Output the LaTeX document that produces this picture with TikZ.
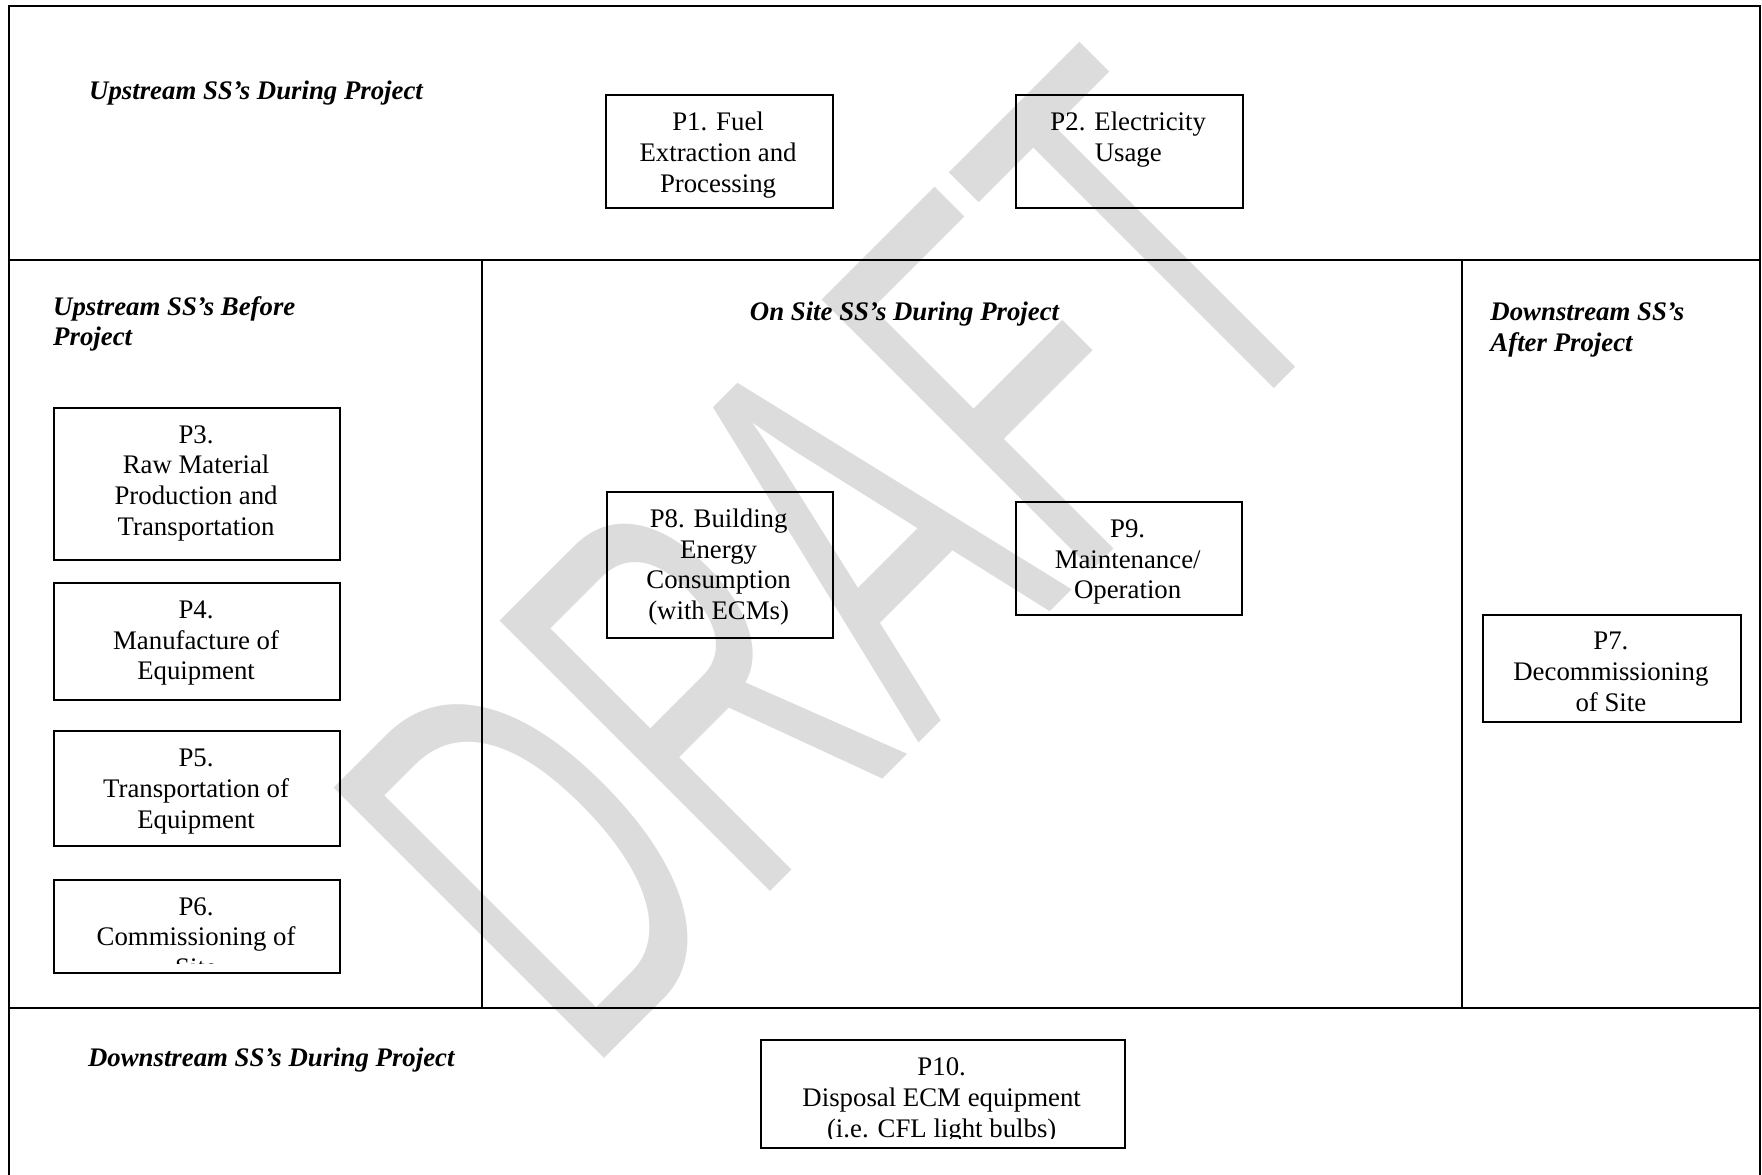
\documentclass[tikz,border=0pt]{standalone}
\usepackage{fontspec}
\setmainfont{Liberation Serif}
\newfontfamily\wmfont{Liberation Sans}
\definecolor{wmgray}{RGB}{220,220,220}
\newcommand\procbox[6]{%
  \node[pbox, minimum width={(#4-#2)*0.56186pt}, minimum height={(#5-#3)*0.56186pt}] (#1) at (#2,#3) {};
  \begin{scope}
    \clip (#2,#3) rectangle (#4,#5-8);
    \node[ptext] (#1t) at ({(#2+#4)/2},#3+12.9) {\strut#6};
  \end{scope}}
\begin{document}
\begin{tikzpicture}[x=0.56186pt,y=-0.56186pt,
  frame/.style={line width=1pt},
  pbox/.style={draw, line width=1pt, inner sep=0pt, anchor=north west},
  ptext/.style={align=center, inner sep=0pt, anchor=north, font=\fontsize{13.4}{15.35}\selectfont},
  sect/.style={align=left, inner sep=0pt, anchor=north west, font=\fontsize{13.4}{15.35}\selectfont\bfseries\itshape}]
\useasboundingbox (0,0) rectangle (1568,1045);

% watermark
\begin{scope}[shift={(520.5,959)}, rotate=45, xscale=0.588]
  \node[transform shape, anchor=base west, inner sep=0pt, text=wmgray,
        font=\wmfont\fontsize{278}{278}\selectfont] (draft) at (0,0) {DRAFT};
\end{scope}

% frame
\draw[frame] (8,1060) -- (8,5) -- (1566,5) -- (1566,1060);
\draw[frame] (8,231) -- (1566,231);
\draw[frame] (8,897) -- (1566,897);
\draw[frame] (429,231) -- (429,897);
\draw[frame] (1301,231) -- (1301,897);

% section labels
\node[sect] (lupdur) at (79,69) {\strut Upstream SS’s During Project};
\node[sect] (lupbef) at (47,261) {\strut Upstream SS’s Before\\Project};
\node[sect] (lonsite) at (667,266) {\strut On Site SS’s During Project};
\node[sect] (ldnaft) at (1326,266) {\strut Downstream SS’s\\After Project};
\node[sect] (ldndur) at (78,930) {\strut Downstream SS’s During Project};

% boxes
\procbox{p1}{538}{84}{740}{184}{P1. Fuel\\Extraction and\\Processing}
\procbox{p2}{903}{84}{1105}{184}{P2. Electricity\\Usage}
\procbox{p3}{47}{362}{302}{497}{P3.\\Raw Material\\Production and\\Transportation}
\procbox{p4}{47}{518}{302}{622}{P4.\\Manufacture of\\Equipment}
\procbox{p5}{47}{650}{302}{752}{P5.\\Transportation of\\Equipment}
\procbox{p6}{47}{782}{302}{865}{P6.\\Commissioning of\\Site}
\procbox{p8}{539}{437}{740}{567}{P8. Building\\Energy\\Consumption\\(with ECMs)}
\procbox{p9}{903}{446}{1104}{546}{P9.\\Maintenance/\\Operation}
\procbox{p7}{1319}{546}{1548}{642}{P7.\\Decommissioning\\of Site}
\procbox{p10}{676}{925}{1000}{1021}{P10.\\Disposal ECM equipment\\(i.e. CFL light bulbs)}
\end{tikzpicture}
\end{document}
